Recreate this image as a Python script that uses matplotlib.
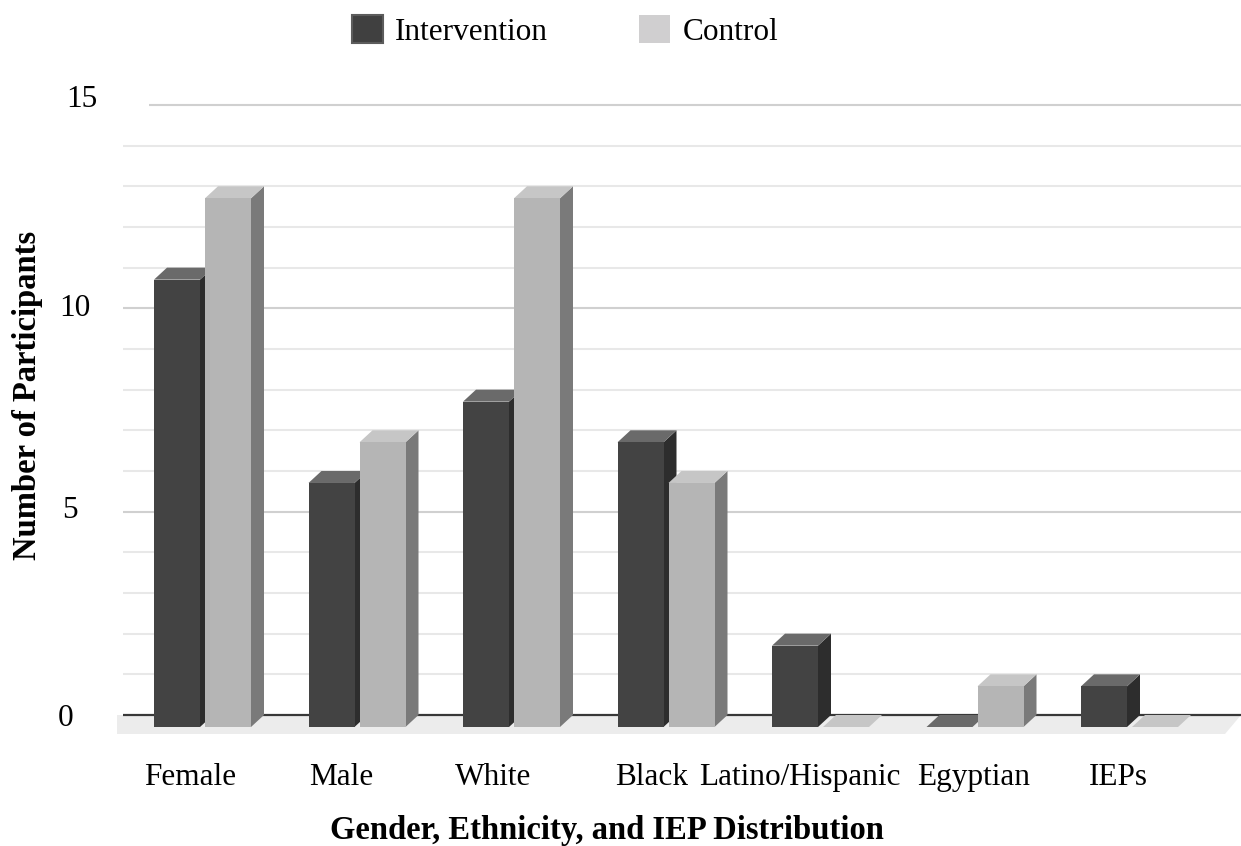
import matplotlib
matplotlib.use("Agg")
import matplotlib.pyplot as plt
from matplotlib.patches import Polygon, Rectangle, Patch

# ---- data -------------------------------------------------------------
categories = ["Female", "Male", "White", "Black", "Latino/Hispanic", "Egyptian", "IEPs"]
intervention = [11, 6, 8, 7, 2, 0, 1]
control = [13, 7, 13, 6, 0, 1, 0]
series_names = ["Intervention", "Control"]
y_ticks = [0, 5, 10, 15]

# ---- styling ----------------------------------------------------------
plt.rcParams["font.family"] = ["Liberation Serif", "DejaVu Serif"]
FS = 22.5
FS_TITLE = 23.5

INT_FRONT, INT_TOP, INT_SIDE = "#434343", "#6a6a6a", "#2d2d2d"
CTL_FRONT, CTL_TOP, CTL_SIDE = "#b5b5b5", "#c6c6c6", "#7a7a7a"
LEG_INT, LEG_INT_EDGE, LEG_CTL = "#404040", "#5c5c5c", "#d0cfd0"
FLOOR = "#ececec"
BASELINE = "#383838"
GRID_MINOR, GRID_MAJOR = "#e8e8e8", "#d0d0d0"

# ---- layout (pixel geometry of the back wall) -------------------------
W, H, DPI = 1241, 846, 100
AX_L, AX_R, AX_T, AX_B = 117, 1241, 95, 740
X0, XS = 215.5, 154.5          # back-wall centre of first category, px per category
Y0, YS = 715.0, 40.67          # baseline row, px per participant
DEPTH_X, DEPTH_Y = 13, 12      # 3-D depth offset in px
BAR_W, BAR_GAP = 46, 5
GRID_START, TOP_GRID_START = 123, 149
FLOOR_DEPTH, FLOOR_SLANT = 19, 16
TICK_LABEL_X = {0: 66, 5: 70, 10: 75, 15: 82}
TICK_LABEL_DY = {0: 3, 5: -1, 10: 0, 15: -5}
LABEL_NUDGE = [-12.5, -16, -18.5, -14, -20.5, -1, -11.5]
LABEL_BASELINE = 785


def dx(px):
    return (px - X0) / XS


def dy(py):
    return (Y0 - py) / YS


fig = plt.figure(figsize=(W / DPI, H / DPI), dpi=DPI)
ax = fig.add_axes([AX_L / W, (H - AX_B) / H, (AX_R - AX_L) / W, (AX_B - AX_T) / H])
xmin, xmax = dx(AX_L), dx(AX_R)
ax.set_xlim(xmin, xmax)
ax.set_ylim(dy(AX_B), dy(AX_T))
ax.axis("off")

ddx = DEPTH_X / XS
ddy = DEPTH_Y / YS
w = BAR_W / XS
g = BAR_GAP / XS

# floor
fd = FLOOR_DEPTH / YS
ax.add_patch(Polygon([(xmin, 0), (xmax, 0), (xmax - FLOOR_SLANT / XS, -fd), (xmin, -fd)],
                     closed=True, facecolor=FLOOR, edgecolor="none", zorder=0))

# back-wall gridlines
for v in range(1, max(y_ticks) + 1):
    major = v % 5 == 0
    start = dx(TOP_GRID_START) if v == max(y_ticks) else dx(GRID_START)
    ax.hlines(v, start, xmax, color=GRID_MAJOR if major else GRID_MINOR,
              lw=1.5, zorder=1)
ax.hlines(0, dx(GRID_START), xmax, color=BASELINE, lw=1.6, zorder=2)


def bar3d(xl, v, front, top, side, z):
    xr = xl + w
    if v > 0:
        ax.add_patch(Polygon([(xr - ddx, -ddy), (xr, 0), (xr, v), (xr - ddx, v - ddy)],
                             closed=True, facecolor=side, edgecolor="none", zorder=z))
    ax.add_patch(Polygon([(xl - ddx, v - ddy), (xr - ddx, v - ddy), (xr, v), (xl, v)],
                         closed=True, facecolor=top, edgecolor="none", zorder=z))
    if v > 0:
        ax.add_patch(Rectangle((xl - ddx, -ddy), w, v, facecolor=front,
                               edgecolor="none", zorder=z))


z = 3
for i, (a, b) in enumerate(zip(intervention, control)):
    bar3d(i - g / 2 - w, a, INT_FRONT, INT_TOP, INT_SIDE, z)
    z += 1
    bar3d(i + g / 2, b, CTL_FRONT, CTL_TOP, CTL_SIDE, z)
    z += 1

# y tick labels
for v in y_ticks:
    fig.text(TICK_LABEL_X[v] / W, 1 - (Y0 - YS * v + TICK_LABEL_DY[v]) / H, str(v),
             ha="center", va="center", fontsize=FS, color="#000000")

# category labels
for i, (lab, nudge) in enumerate(zip(categories, LABEL_NUDGE)):
    cx = X0 - DEPTH_X + XS * i + nudge
    fig.text(cx / W, 1 - LABEL_BASELINE / H, lab, ha="center", va="baseline",
             fontsize=FS, color="#000000")

# axis titles
fig.text(607 / W, 1 - 839 / H, "Gender, Ethnicity, and IEP Distribution",
         ha="center", va="baseline", fontsize=FS_TITLE, fontweight="bold")
fig.text(28 / W, 1 - 395 / H, "Number of Participants", rotation=90,
         ha="center", va="center", fontsize=FS_TITLE, fontweight="bold")

# legend
handles = [Patch(facecolor=LEG_INT, edgecolor=LEG_INT_EDGE, linewidth=1.5),
           Patch(facecolor=LEG_CTL, edgecolor="none")]
fig.legend(handles, series_names, loc="upper center", bbox_to_anchor=(565 / W, 1 + 7 / H),
           ncol=2, frameon=False, fontsize=FS, handlelength=1.0, handleheight=1.0,
           handletextpad=0.4, columnspacing=2.9, borderpad=0.2)

fig.savefig("out.png", dpi=DPI)
